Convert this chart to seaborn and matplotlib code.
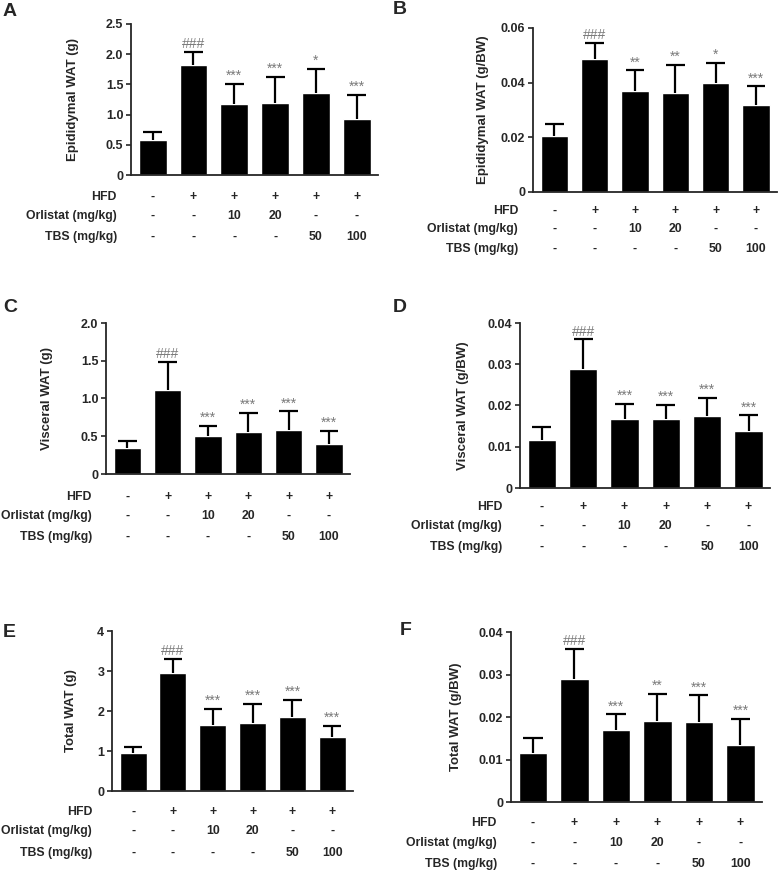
import numpy as np
import pandas as pd
import matplotlib
matplotlib.use("Agg")
import matplotlib.pyplot as plt
import seaborn as sns

# groups (x categories)
groups = ["Normal", "HFD", "HFD+Orl10", "HFD+Orl20", "HFD+TBS50", "HFD+TBS100"]

# treatment table under each panel
hfd_row = ["-", "+", "+", "+", "+", "+"]
orlistat_row = ["-", "-", "10", "20", "-", "-"]
tbs_row = ["-", "-", "-", "-", "50", "100"]
row_names = ["HFD", "Orlistat (mg/kg)", "TBS (mg/kg)"]

# A: Epididymal WAT (g)
a_mean = [0.58, 1.82, 1.17, 1.20, 1.35, 0.92]
a_sd = [0.14, 0.22, 0.34, 0.42, 0.41, 0.40]
a_sig = ["", "###", "***", "***", "*", "***"]
a_ticks = [0, 0.5, 1.0, 1.5, 2.0, 2.5]
a_ticklabels = ["0", "0.5", "1.0", "1.5", "2.0", "2.5"]

# B: Epididymal WAT (g/BW)
b_mean = [0.0204, 0.0487, 0.0371, 0.0362, 0.0399, 0.0318]
b_sd = [0.0043, 0.0057, 0.0074, 0.0102, 0.0072, 0.0068]
b_sig = ["", "###", "**", "**", "*", "***"]
b_ticks = [0, 0.02, 0.04, 0.06]
b_ticklabels = ["0", "0.02", "0.04", "0.06"]

# C: Visceral WAT (g)
c_mean = [0.34, 1.11, 0.50, 0.56, 0.58, 0.40]
c_sd = [0.10, 0.38, 0.14, 0.25, 0.25, 0.17]
c_sig = ["", "###", "***", "***", "***", "***"]
c_ticks = [0, 0.5, 1.0, 1.5, 2.0]
c_ticklabels = ["0", "0.5", "1.0", "1.5", "2.0"]

# D: Visceral WAT (g/BW)
d_mean = [0.0116, 0.0289, 0.0168, 0.0168, 0.0174, 0.0138]
d_sd = [0.0033, 0.0071, 0.0036, 0.0033, 0.0044, 0.0038]
d_sig = ["", "###", "***", "***", "***", "***"]
d_ticks = [0, 0.01, 0.02, 0.03, 0.04]
d_ticklabels = ["0", "0.01", "0.02", "0.03", "0.04"]

# E: Total WAT (g)
e_mean = [0.96, 2.96, 1.66, 1.70, 1.85, 1.34]
e_sd = [0.14, 0.33, 0.40, 0.47, 0.43, 0.28]
e_sig = ["", "###", "***", "***", "***", "***"]
e_ticks = [0, 1, 2, 3, 4]
e_ticklabels = ["0", "1", "2", "3", "4"]

# F: Total WAT (g/BW)
f_mean = [0.0116, 0.0289, 0.0169, 0.0191, 0.0189, 0.0135]
f_sd = [0.0034, 0.0072, 0.0037, 0.0064, 0.0062, 0.0060]
f_sig = ["", "###", "***", "**", "***", "***"]
f_ticks = [0, 0.01, 0.02, 0.03, 0.04]
f_ticklabels = ["0", "0.01", "0.02", "0.03", "0.04"]

W, H = 778, 871
sns.set_style("ticks")
plt.rcParams["font.family"] = ["Liberation Sans", "DejaVu Sans"]
plt.rcParams["font.weight"] = "bold"

fig = plt.figure(figsize=(W / 100, H / 100), dpi=100)

# panel layout in pixels: letter pos, axes box (left, top, right, bottom),
# ylabel offset, row label offset, table row offsets
panels = [
    ("A", "Epididymal WAT (g)", a_mean, a_sd, a_sig, a_ticks, a_ticklabels,
     (3, 11), (131, 24, 378, 175), 59, 14, (22, 41, 62)),
    ("B", "Epididymal WAT (g/BW)", b_mean, b_sd, b_sig, b_ticks, b_ticklabels,
     (393, 9), (533, 28, 777, 192), 51, 15, (19, 37, 57)),
    ("C", "Visceral WAT (g)", c_mean, c_sd, c_sig, c_ticks, c_ticklabels,
     (3, 307), (106, 323, 350, 474), 60, 14, (23, 42, 63)),
    ("D", "Visceral WAT (g/BW)", d_mean, d_sd, d_sig, d_ticks, d_ticklabels,
     (393, 307), (520, 323, 770, 488), 58, 18, (19, 38, 59)),
    ("E", "Total WAT (g)", e_mean, e_sd, e_sig, e_ticks, e_ticklabels,
     (3, 632), (112, 631, 353, 791), 42, 20, (21, 40, 62)),
    ("F", "Total WAT (g/BW)", f_mean, f_sd, f_sig, f_ticks, f_ticklabels,
     (400, 630), (511, 632, 762, 802), 56, 14, (21, 41, 62)),
]

cap = 0.23  # half cap width in category units

for (letter, ylabel, mean, sd, sig, ticks, ticklabels,
     lpos, box, ylab_off, row_off, row_dy) in panels:
    left, top, right, bottom = box
    ax = fig.add_axes([left / W, 1 - bottom / H, (right - left) / W, (bottom - top) / H])
    df = pd.DataFrame({"group": groups, "mean": mean, "sd": sd})
    sns.barplot(data=df, x="group", y="mean", color="black", saturation=1,
                width=0.68, errorbar=None, ax=ax)
    x = np.arange(len(groups))
    tops = df["mean"] + df["sd"]
    # upper-only error bars
    ax.vlines(x, df["mean"], tops, color="black", linewidth=1.6, zorder=3)
    ax.hlines(tops, x - cap, x + cap, color="black", linewidth=1.6, zorder=3)

    ax.set_xlim(-0.53, 5.52)
    ax.set_ylim(ticks[0], ticks[-1])
    ax.set_yticks(ticks)
    ax.set_yticklabels(ticklabels, fontsize=9, fontweight="bold")
    ax.set_xticks([])
    ax.set_xlabel("")
    ax.tick_params(axis="y", length=3.5, width=1.2, pad=2)
    sns.despine(ax=ax)
    for s in ["left", "bottom"]:
        ax.spines[s].set_linewidth(1.3)

    # y label
    ax.set_ylabel(ylabel, fontsize=9.5, fontweight="bold")
    ax.yaxis.set_label_coords(-(ylab_off - 7) / (right - left), 0.5)

    # significance marks
    for xi, t, txt in zip(x, tops, sig):
        if txt:
            ax.annotate(txt, xy=(xi, t), xytext=(0, 1), textcoords="offset pixels",
                        ha="center", va="bottom", fontsize=10, color="#7a7a7a",
                        fontweight="normal")

    # treatment table
    for name, row, dy in zip(row_names, [hfd_row, orlistat_row, tbs_row], row_dy):
        ax.annotate(name, xy=(0, 0), xycoords="axes fraction",
                    xytext=(-row_off, -dy), textcoords="offset pixels",
                    ha="right", va="center", fontsize=8.8, fontweight="bold",
                    annotation_clip=False)
        for xi, val in zip(x, row):
            ax.annotate(val, xy=(xi, 0), xycoords=ax.get_xaxis_transform(),
                        xytext=(0, -dy), textcoords="offset pixels",
                        ha="center", va="center", fontsize=8.8, fontweight="bold",
                        annotation_clip=False)

    fig.text(lpos[0] / W, 1 - lpos[1] / H, letter, fontsize=14, fontweight="bold",
             ha="left", va="center")

fig.savefig("out.png", dpi=100)
